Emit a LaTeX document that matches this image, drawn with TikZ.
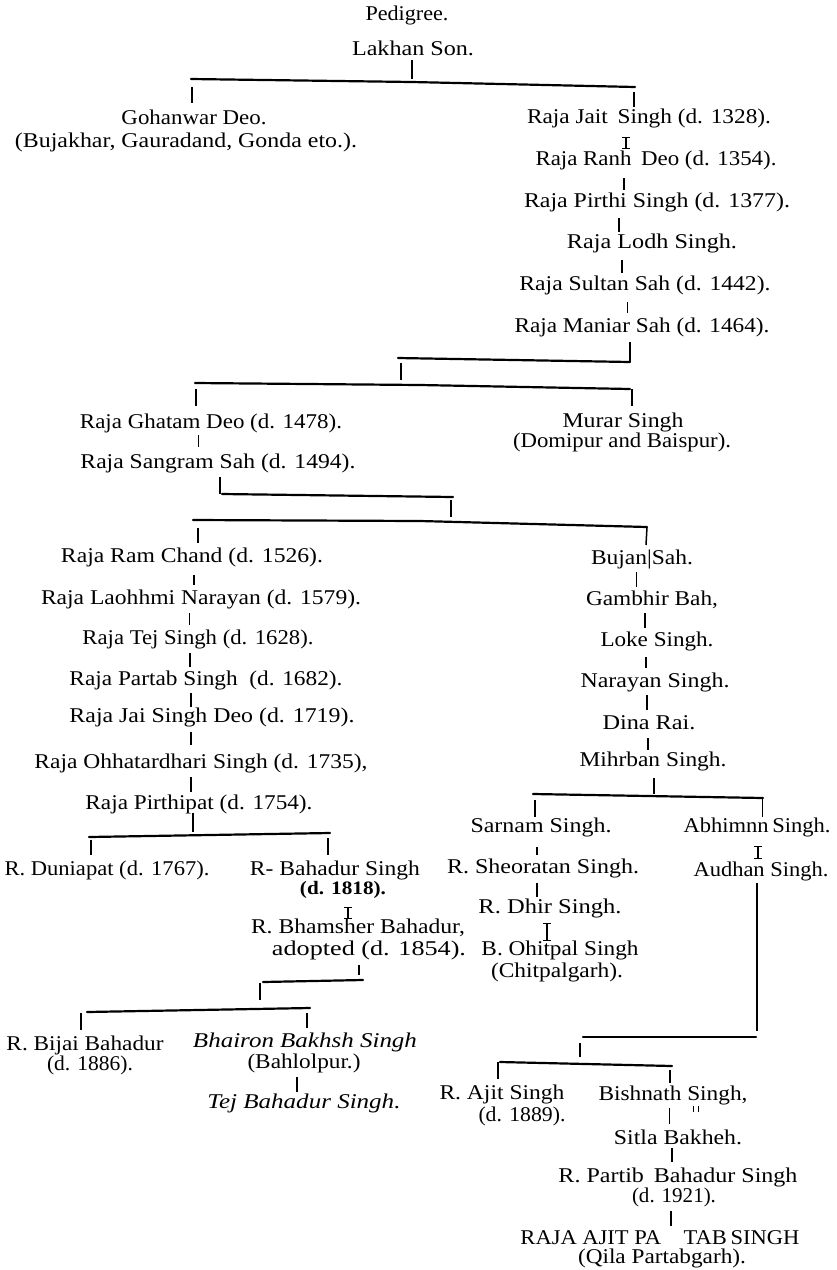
\documentclass[tikz,border=0pt]{standalone}
\usepackage{fontspec}
\setmainfont{Liberation Serif}
\usepackage{graphicx}
\newcommand\fw[2]{\resizebox{#1pt}{\height}{#2}}
\begin{document}
\begin{tikzpicture}[x=1pt,y=-1pt,
  txt/.style={inner sep=0pt, font=\fontsize{21}{23}\selectfont},
  tk/.style={line width=1.5pt},
  br/.style={line width=2.2pt, line cap=round},
  ser/.style={line width=1pt},
]
\useasboundingbox[fill=white] (0,0) rectangle (837,1270);
% ---------- text ----------
\node[txt] (ped) at (407,15) {\fw{83}{Pedigree.}};
\node[txt] (lakhan) at (413,48) {\fw{122}{Lakhan Son.}};
\node[txt] (gohan) at (194,117) {\fw{145}{Gohanwar Deo.}};
\node[txt] (gohanb) at (186,142) {\fw{342}{(Bujakhar, Gauradand, Gonda eto.).}};
\node[txt] (jait) at (649,118) {\fw{244}{Raja Jait\, Singh (d. 1328).}};
\node[txt] (ranh) at (656,160) {\fw{241}{Raja Ranh\, Deo (d. 1354).}};
\node[txt] (pirthi) at (657,202) {\fw{266}{Raja Pirthi Singh (d. 1377).}};
\node[txt] (lodh) at (652,243) {\fw{170}{Raja Lodh Singh.}};
\node[txt] (sultan) at (645,285) {\fw{251}{Raja Sultan Sah (d. 1442).}};
\node[txt] (maniar) at (642,327) {\fw{255}{Raja Maniar Sah (d. 1464).}};
\node[txt] (ghatam) at (211,423) {\fw{262}{Raja Ghatam Deo (d. 1478).}};
\node[txt] (murar) at (623,422) {\fw{121}{Murar Singh}};
\node[txt] (murarb) at (622,442) {\fw{218}{(Domipur and Baispur).}};
\node[txt] (sangram) at (218,463) {\fw{275}{Raja Sangram Sah (d. 1494).}};
\node[txt] (ram) at (192,557) {\fw{262}{Raja Ram Chand (d. 1526).}};
\node[txt] (laoh) at (201,599) {\fw{320}{Raja Laohhmi Narayan (d. 1579).}};
\node[txt] (tej) at (198,639) {\fw{231}{Raja Tej Singh (d. 1628).}};
\node[txt] (partab) at (206,680) {\fw{273}{Raja Partab Singh\enspace(d. 1682).}};
\node[txt] (jai) at (212,717) {\fw{285}{Raja Jai Singh Deo (d. 1719).}};
\node[txt] (ohhat) at (201,763) {\fw{333}{Raja Ohhatardhari Singh (d. 1735),}};
\node[txt] (pirthipat) at (199,804) {\fw{227}{Raja Pirthipat (d. 1754).}};
\node[txt] (bujan) at (642,559) {\fw{102}{Bujan|Sah.}};
\node[txt] (gambhir) at (652,600) {\fw{132}{Gambhir Bah,}};
\node[txt] (loke) at (657,641) {\fw{113}{Loke Singh.}};
\node[txt] (narayan) at (655,682) {\fw{149}{Narayan Singh.}};
\node[txt] (dina) at (649,723) {\fw{93}{Dina Rai.}};
\node[txt] (mihrban) at (653,761) {\fw{147}{Mihrban Singh.}};
\node[txt] (sarnam) at (541,827) {\fw{141}{Sarnam Singh.}};
\node[txt] (abhim) at (757,827) {\fw{147}{Abhimnn\,Singh.}};
\node[txt] (audhan) at (761,871) {\fw{135}{Audhan Singh.}};
\node[txt] (sheor) at (543,868) {\fw{192}{R. Sheoratan Singh.}};
\node[txt] (dhir) at (550,908) {\fw{143}{R. Dhir Singh.}};
\node[txt] (ohit) at (560,950) {\fw{157}{B. Ohitpal Singh}};
\node[txt] (ohitb) at (557,972) {\fw{132}{(Chitpalgarh).}};
\node[txt] (duni) at (107,870) {\fw{205}{R. Duniapat (d. 1767).}};
\node[txt] (bahadur) at (335,870) {\fw{170}{R- Bahadur Singh}};
\node[txt, font=\fontsize{19}{21}\selectfont] (bahadurb) at (343,890) {\fw{86}{\bfseries (d. 1818).}};
\node[txt] (bham) at (358,928) {\fw{214}{R. Bhamsher Bahadur,}};
\node[txt] (bhamb) at (369,950) {\fw{194}{adopted (d. 1854).}};
\node[txt] (bijai) at (85,1045) {\fw{157}{R. Bijai Bahadur}};
\node[txt] (bijaib) at (90,1065) {\fw{86}{(d. 1886).}};
\node[txt] (bhairon) at (305,1042) {\fw{224}{\itshape Bhairon Bakhsh Singh}};
\node[txt] (bhaironb) at (304,1063) {\fw{113}{(Bahlolpur.)}};
\node[txt] (tejb) at (304,1103) {\fw{193}{\itshape Tej Bahadur Singh.}};
\node[txt] (ajit) at (502,1094) {\fw{125}{R. Ajit Singh}};
\node[txt] (ajitb) at (522,1116) {\fw{87}{(d. 1889).}};
\node[txt] (bish) at (673,1095) {\fw{149}{Bishnath Singh,}};
\coordinate (ditto) at (696,1106);
\draw[line width=0.9pt] ([xshift=-2.2pt]ditto) -- ++(0,6) ([xshift=2.2pt]ditto) -- ++(0,6);
\node[txt] (sitla) at (678,1137) {\fw{128}{Sitla Bakheh.}};
\node[txt] (partib) at (678,1177) {\fw{239}{R. Partib\, Bahadur Singh}};
\node[txt] (partibb) at (674,1197) {\fw{84}{(d. 1921).}};
\node[txt] (raja) at (660,1238) {\fw{279}{RAJA AJIT PA\hspace{1em}TAB\,SINGH}};
\node[txt] (rajab) at (662,1258) {\fw{168}{(Qila Partabgarh).}};
% ---------- brackets ----------
\draw[br] (191,79) -- (412,82) -- (635,87);
\draw[br] (398,358) -- (630,362);
\draw[br] (195,383) -- (420,385) -- (630,389);
\draw[br] (222,494) -- (453,497);
\draw[br] (193,520) -- (420,521) -- (647,527);
\draw[br] (89,837) -- (330,833);
\draw[br] (533,794) -- (763,798);
\draw[br] (263,982) -- (363,980);
\draw[br] (87,1012) -- (310,1008);
\draw[br] (583,1037) -- (756,1037);
\draw[br] (500,1062) -- (672,1066);
% ---------- ticks ----------
\draw[tk] (412,60) -- (412,79);
\draw[tk] (192,87) -- (192,103);
\draw[tk] (634,92) -- (634,107);
\draw[tk] (626,137) -- (626,148);
\draw[ser] (622,137) -- (630,137) (622,148) -- (630,148);
\draw[tk] (624,178) -- (624,190);
\draw[tk] (619,218) -- (619,232);
\draw[tk] (622,260) -- (622,273);
\draw[tk, line width=1pt] (627,302) -- (627,313);
\draw[tk] (630,342) -- (630,362);
\draw[tk] (401,363) -- (401,380);
\draw[tk] (196,389) -- (196,406);
\draw[tk] (632,389) -- (632,406);
\draw[tk, line width=1pt] (198,435) -- (198,447);
\draw[tk] (220,477) -- (220,494);
\draw[tk] (451,500) -- (451,517);
\draw[tk] (198,528) -- (198,543);
\draw[tk] (647,527) -- (646,545);
\draw[tk] (194,575) -- (194,585);
\draw[tk, line width=1pt] (189,613) -- (189,625);
\draw[tk] (190,653) -- (190,667);
\draw[tk] (191,693) -- (191,707);
\draw[tk] (191,732) -- (191,745);
\draw[tk] (191,777) -- (191,792);
\draw[tk] (193,813) -- (193,832);
\draw[tk] (91,840) -- (91,855);
\draw[tk] (328,838) -- (328,855);
\draw[tk, line width=1pt] (636,572) -- (636,587);
\draw[tk] (645,613) -- (645,628);
\draw[tk] (646,657) -- (646,668);
\draw[tk] (647,695) -- (647,710);
\draw[tk] (648,738) -- (648,750);
\draw[tk] (654,778) -- (654,794);
\draw[tk] (535,800) -- (535,817);
\draw[tk, line width=1pt] (762,797) -- (762,817);
\draw[tk] (537,847) -- (537,855);
\draw[tk] (758,846) -- (758,858);
\draw[ser] (754,846) -- (762,846) (754,858) -- (762,858);
\draw[tk] (537,883) -- (537,897);
\draw[tk] (547,923) -- (547,940);
\draw[ser] (543,923) -- (551,923) (543,940) -- (551,940);
\draw[tk] (348,907) -- (348,918);
\draw[ser] (344,907) -- (352,907) (344,918) -- (352,918);
\draw[tk] (359,965) -- (359,975);
\draw[tk] (260,983) -- (260,1000);
\draw[tk] (81,1013) -- (81,1030);
\draw[tk] (307,1013) -- (307,1028);
\draw[tk] (297,1077) -- (297,1092);
\draw[tk, line width=1.8pt] (757,883) -- (757,1031);
\draw[tk] (580,1043) -- (580,1057);
\draw[tk] (498,1062) -- (498,1079);
\draw[tk] (670,1070) -- (670,1083);
\draw[tk, line width=0.6pt] (669,1108) -- (669,1124);
\draw[tk] (672,1148) -- (672,1162);
\draw[tk] (671,1211) -- (671,1226);
\end{tikzpicture}
\end{document}
